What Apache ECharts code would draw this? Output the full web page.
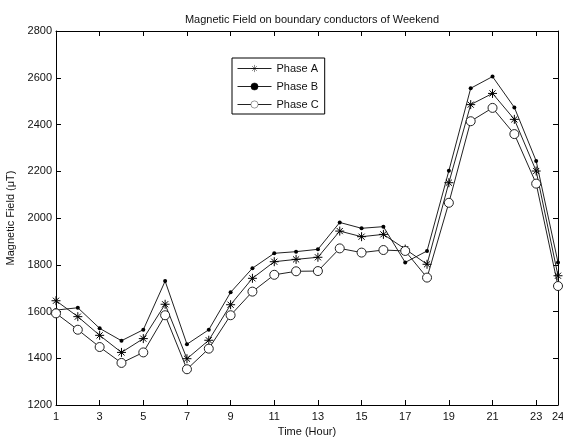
<!DOCTYPE html>
<html>
<head>
<meta charset="utf-8">
<script src="https://cdn.jsdelivr.net/npm/echarts@6/dist/echarts.min.js"></script>
<style>html,body{margin:0;padding:0;background:#fff;}#c{width:563px;height:439px;}</style>
</head>
<body>
<div id="c"></div>
<script>
var hours = ['1','2','3','4','5','6','7','8','9','10','11','12','13','14','15','16','17','18','19','20','21','22','23','24'];
var phaseA = [1646,1578,1498,1425,1484,1631,1398,1477,1629,1742,1813,1823,1832,1944,1920,1930,1867,1802,2151,2485,2533,2422,2201,1753];
var phaseB = [1606,1616,1528,1475,1522,1730,1460,1522,1682,1785,1849,1856,1866,1981,1956,1963,1810,1859,2202,2555,2605,2473,2244,1810];
var phaseC = [1592,1522,1448,1380,1425,1584,1353,1441,1584,1685,1757,1772,1773,1870,1852,1863,1859,1745,2065,2414,2471,2359,2147,1709];
var yMin = 1200, yMax = 2800, yStep = 200;

var FONT = 'Liberation Sans';
var shownTick = function (i) { return i % 2 === 0 || i === hours.length - 1; };
var star = 'path://M0,5L10,5M5,0L5,10M1.6,1.6L8.4,8.4M8.4,1.6L1.6,8.4';

var chart = echarts.init(document.getElementById('c'), null, {renderer: 'canvas'});
chart.setOption({
  animation: false,
  backgroundColor: '#fff',
  title: {
    text: 'Magnetic Field on boundary conductors of Weekend',
    left: 307, top: 9, textAlign: 'center',
    textStyle: {fontFamily: FONT, fontSize: 11, fontWeight: 'normal', color: '#111'}
  },
  legend: {
    orient: 'vertical', left: 232, top: 58,
    itemWidth: 34, itemHeight: 9, itemGap: 7, padding: [5, 6, 4, 5],
    borderColor: '#000', borderWidth: 1, backgroundColor: '#fff',
    textStyle: {fontFamily: FONT, fontSize: 11, color: '#111'},
    lineStyle: {width: 1},
    itemStyle: {borderWidth: 0.45},
    data: [
      {name: 'Phase A', icon: 'inherit'},
      {name: 'Phase B', icon: 'inherit'},
      {name: 'Phase C', icon: 'inherit'}
    ]
  },
  grid: {left: 56, right: 5, top: 31, bottom: 34, containLabel: false, outerBoundsMode: 'none'},
  xAxis: [{
    type: 'category', data: hours, boundaryGap: false,
    name: 'Time (Hour)', nameLocation: 'middle', nameGap: 20,
    nameTextStyle: {fontFamily: FONT, fontSize: 11, color: '#111'},
    axisLine: {lineStyle: {color: '#000', width: 1}},
    axisTick: {inside: true, length: 5, interval: shownTick, lineStyle: {color: '#000'}},
    axisLabel: {interval: shownTick, fontFamily: FONT, fontSize: 11, color: '#111', margin: 6},
    splitLine: {show: false}
  }, {
    type: 'category', data: hours, boundaryGap: false, position: 'top',
    axisLine: {lineStyle: {color: '#000', width: 1}},
    axisTick: {inside: true, length: 5, interval: shownTick, lineStyle: {color: '#000'}},
    axisLabel: {show: false}, splitLine: {show: false}
  }],
  yAxis: [{
    type: 'value', min: yMin, max: yMax, interval: yStep,
    name: 'Magnetic Field (\u03bcT)', nameLocation: 'middle', nameGap: 34,
    nameTextStyle: {fontFamily: FONT, fontSize: 11, color: '#111'},
    axisLine: {show: true, lineStyle: {color: '#000', width: 1}},
    axisTick: {show: true, inside: true, length: 5, lineStyle: {color: '#000'}},
    axisLabel: {fontFamily: FONT, fontSize: 11, color: '#111', margin: 4,
      formatter: function (v) { return String(v); }},
    splitLine: {show: false}
  }, {
    type: 'value', min: yMin, max: yMax, interval: yStep, position: 'right',
    axisLine: {show: true, lineStyle: {color: '#000', width: 1}},
    axisTick: {show: true, inside: true, length: 5, lineStyle: {color: '#000'}},
    axisLabel: {show: false}, splitLine: {show: false}
  }],
  series: [{
    name: 'Phase A', type: 'line', data: phaseA,
    symbol: star, symbolSize: 9, showAllSymbol: true,
    lineStyle: {color: '#222', width: 1},
    itemStyle: {color: '#222', borderColor: '#000', borderWidth: 1}
  }, {
    name: 'Phase B', type: 'line', data: phaseB,
    symbol: 'circle', symbolSize: 4, showAllSymbol: true,
    lineStyle: {color: '#222', width: 1},
    itemStyle: {color: '#000', borderColor: '#000', borderWidth: 0}
  }, {
    name: 'Phase C', type: 'line', data: phaseC,
    symbol: 'circle', symbolSize: 9, showAllSymbol: true,
    lineStyle: {color: '#222', width: 1},
    itemStyle: {color: '#fff', borderColor: '#222', borderWidth: 1}
  }]
});
</script>
</body>
</html>
